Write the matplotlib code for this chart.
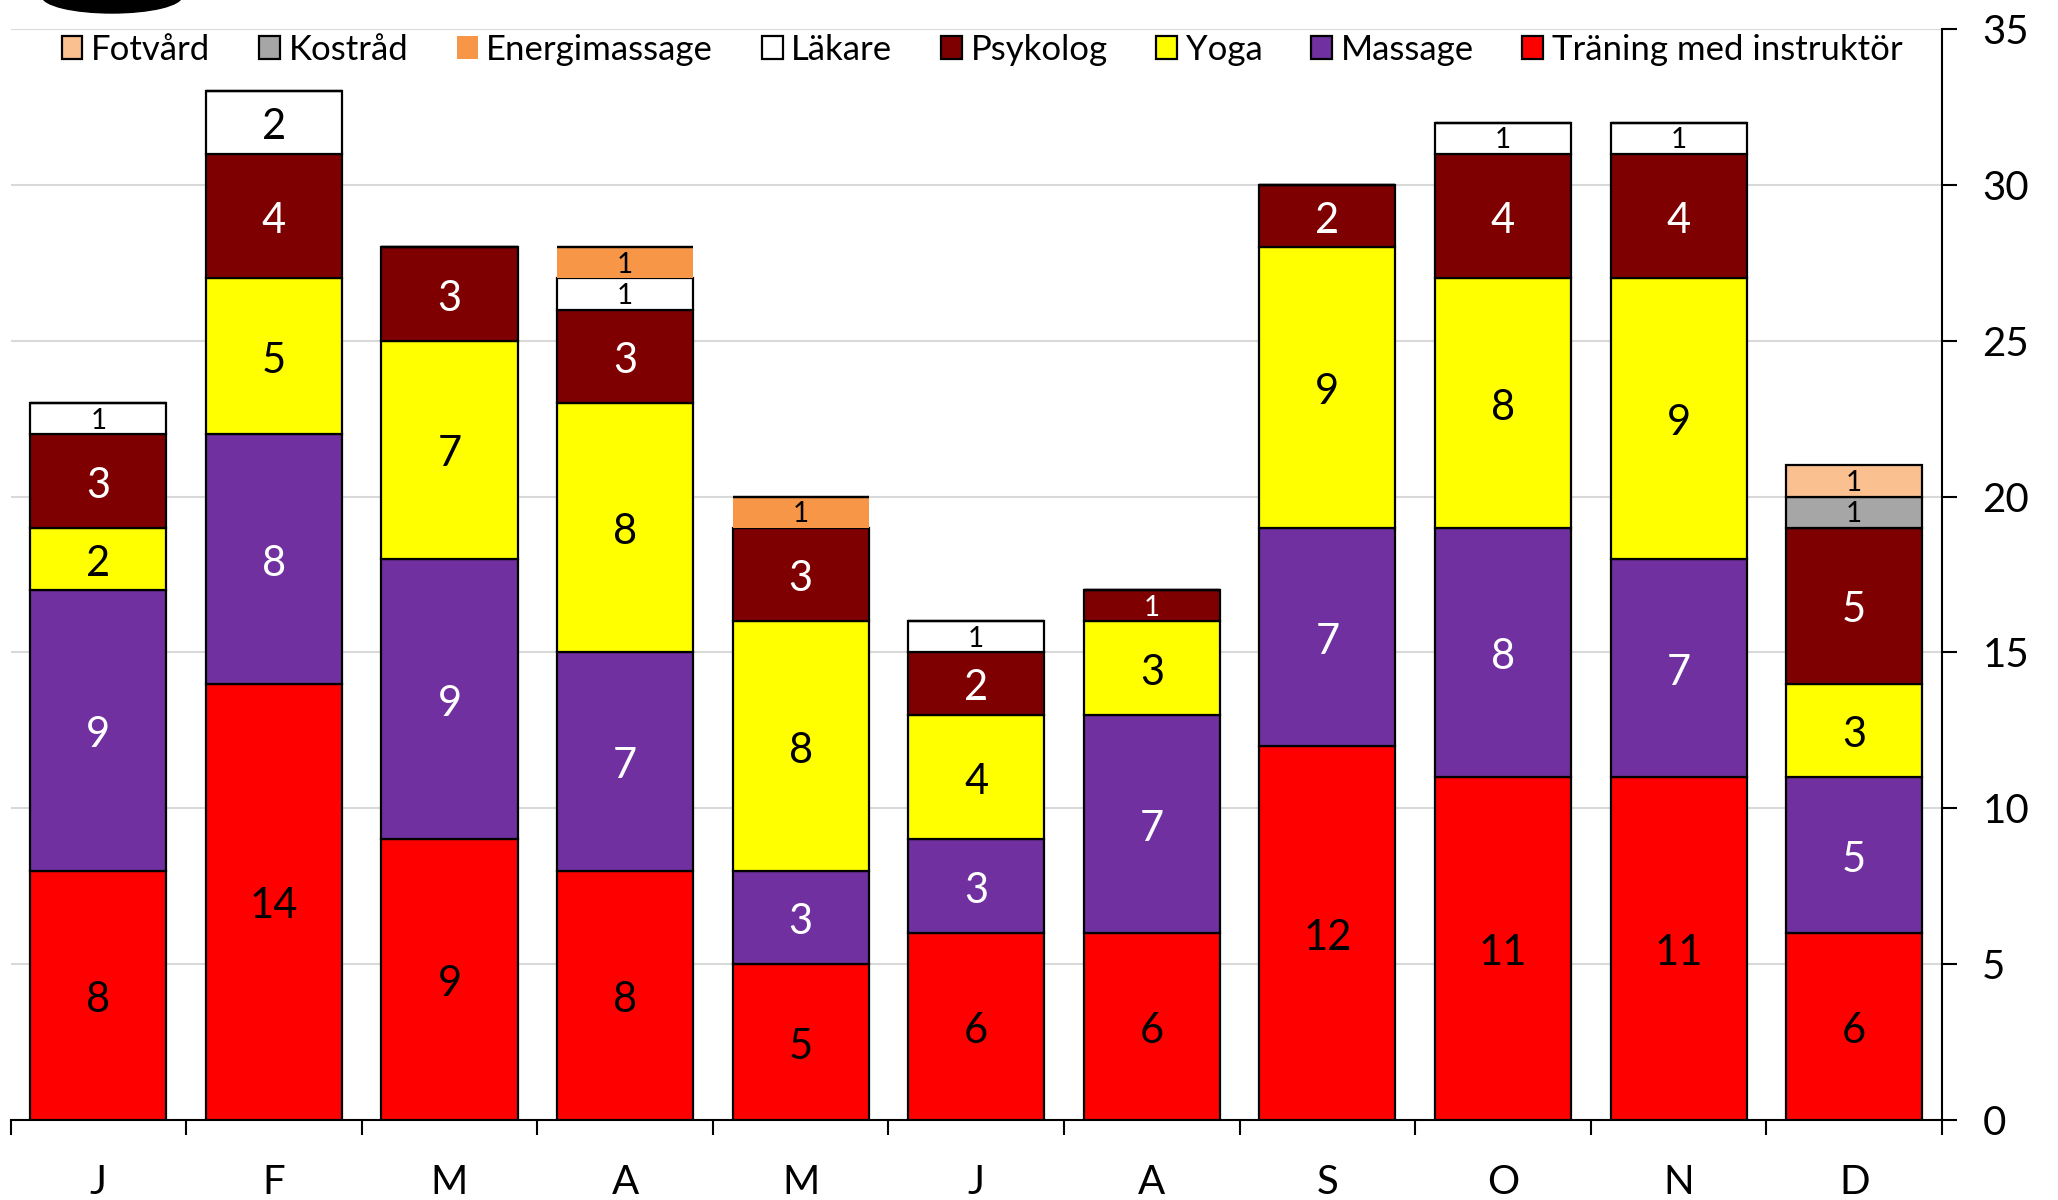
import matplotlib.pyplot as plt
import numpy as np
from matplotlib.patches import Ellipse

plt.rcParams['font.family'] = ['Lato', 'DejaVu Sans']

months = ["J", "F", "M", "A", "M", "J", "A", "S", "O", "N", "D"]

# stacking order, bottom to top
series = ["Träning med instruktör", "Massage", "Yoga", "Psykolog",
          "Läkare", "Energimassage", "Kostråd", "Fotvård"]
traning = [8, 14, 9, 8, 5, 6, 6, 12, 11, 11, 6]
massage = [9, 8, 9, 7, 3, 3, 7, 7, 8, 7, 5]
yoga = [2, 5, 7, 8, 8, 4, 3, 9, 8, 9, 3]
psykolog = [3, 4, 3, 3, 3, 2, 1, 2, 4, 4, 5]
lakare = [1, 2, 0, 1, 0, 1, 0, 0, 1, 1, 0]
energimassage = [0, 0, 0, 1, 1, 0, 0, 0, 0, 0, 0]
kostrad = [0, 0, 0, 0, 0, 0, 0, 0, 0, 0, 1]
fotvard = [0, 0, 0, 0, 0, 0, 0, 0, 0, 0, 1]
values = [traning, massage, yoga, psykolog, lakare, energimassage, kostrad, fotvard]

colors = ["#ff0000", "#7030a0", "#ffff00", "#7f0000",
          "#ffffff", "#f79646", "#a6a6a6", "#fac090"]
text_colors = ["black", "white", "black", "white", "black", "black", "black", "black"]
edges = ["black", "black", "black", "black", "black", "none", "black", "black"]

fig = plt.figure(figsize=(20.58, 12), dpi=100)
ax = fig.add_axes([10.5 / 2058, 80 / 1200, (1942 - 10.5) / 2058, (1120 - 29) / 1200])

x = np.arange(len(months))
bottom = np.zeros(len(months))
for name, vals, c, tc, ec in zip(series, values, colors, text_colors, edges):
    vals = np.array(vals)
    ax.bar(x, vals, 0.775, bottom=bottom, color=c, edgecolor=ec,
           linewidth=1.6, label=name, zorder=3)
    for xi, v, b in zip(x, vals, bottom):
        if v == 0:
            continue
        if v == 1:
            fs, dy = 20, 0.06
        else:
            fs, dy = 30, 0.15
        ax.text(xi, b + v / 2 - dy, str(v), ha="center", va="center",
                fontsize=fs, color=tc, zorder=4)
    bottom = bottom + vals

ax.set_xlim(-0.5, len(months) - 0.5)
ax.set_ylim(0, 35)

# y axis on the right
ax.yaxis.tick_right()
ax.set_yticks(range(0, 36, 5))
ax.tick_params(axis="y", direction="out", length=11, width=1.5, pad=18, labelsize=29)
ax.grid(axis="y", color="#d9d9d9", linewidth=1.5, zorder=0)

# x ticks at category borders, labels centered
ax.set_xticks(np.arange(-0.5, len(months), 1))
ax.set_xticklabels([])
ax.set_xticks(x, minor=True)
ax.set_xticklabels(months, minor=True)
ax.tick_params(axis="x", which="major", direction="out", length=11, width=1.5)
ax.tick_params(axis="x", which="minor", length=0, pad=32, labelsize=29)

for s in ["left", "top"]:
    ax.spines[s].set_visible(False)
ax.spines["right"].set_linewidth(1.5)
ax.spines["bottom"].set_linewidth(1.5)

handles, labels = ax.get_legend_handles_labels()
ax.legend(handles[::-1], labels[::-1], loc="center", bbox_to_anchor=(0.503, 0.981),
          ncol=8, frameon=False, fontsize=25, handlelength=0.6, handleheight=0.6,
          handletextpad=0.25, columnspacing=1.4)

# cropped black logo at the top left
fig.patches.append(Ellipse((112 / 2058, 1 + 4 / 1200), 140 / 2058, 34 / 1200,
                           transform=fig.transFigure, color="black", figure=fig))

fig.savefig("out.png", dpi=100)
